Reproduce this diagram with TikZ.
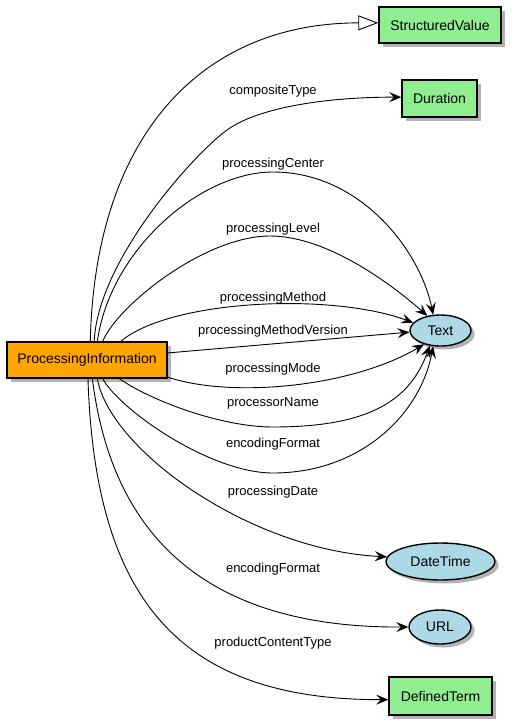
\documentclass[tikz,border=0pt]{standalone}
\usepackage{fontspec}
\setmainfont{Liberation Sans}
\usetikzlibrary{shapes.geometric,arrows.meta,shadows}
\definecolor{piorange}{HTML}{FFA500}
\definecolor{boxgreen}{HTML}{90EE90}
\definecolor{ellblue}{HTML}{ADD8E6}
\begin{document}
\begin{tikzpicture}[x=1pt,y=-1pt,
  shad/.style={drop shadow={shadow xshift=3.5pt,shadow yshift=-3.5pt,fill=black,opacity=0.3}},
  classbox/.style={draw=black,line width=1.4pt,rectangle,inner sep=0pt,font=\fontsize{14}{16}\selectfont,shad},
  typeell/.style={draw=black,line width=1.4pt,ellipse,inner sep=0pt,fill=ellblue,font=\fontsize{14}{16}\selectfont,shad},
  rel/.style={line width=0.9pt,-{Stealth[length=12pt,width=10pt,inset=4.5pt]}},
  inh/.style={line width=0.9pt,-{Triangle[open,length=20pt,width=15pt,fill=white]}},
  lbl/.style={font=\fontsize{13}{15}\selectfont,inner sep=0pt}]
\useasboundingbox (0,0) rectangle (512,724);
% nodes
\node[classbox,fill=piorange,minimum width=160pt,minimum height=36pt] (PI) at (87,360) {ProcessingInformation};
\node[classbox,fill=boxgreen,minimum width=122pt,minimum height=36pt] (SV) at (440,25) {StructuredValue};
\node[classbox,fill=boxgreen,minimum width=75pt,minimum height=37pt] (DU) at (439.5,98.5) {Duration};
\node[typeell,minimum width=61pt,minimum height=31pt] (TX) at (440.5,330.5) {Text};
\node[typeell,minimum width=109pt,minimum height=37pt] (DT) at (440.5,561.5) {DateTime};
\node[typeell,minimum width=62pt,minimum height=34pt] (UR) at (440,627) {URL};
\node[classbox,fill=boxgreen,minimum width=103pt,minimum height=38pt] (DF) at (440.5,696) {DefinedTerm};
% labels
\node[lbl] (l1) at (273,91) {compositeType};
\node[lbl] (l2) at (273,164) {processingCenter};
\node[lbl] (l3) at (273,229) {processingLevel};
\node[lbl] (l4) at (273,298) {processingMethod};
\node[lbl] (l5) at (273,331) {processingMethodVersion};
\node[lbl] (l6) at (273,369) {processingMode};
\node[lbl] (l7) at (273,403) {processorName};
\node[lbl] (l8) at (273,444) {encodingFormat};
\node[lbl] (l9) at (273,492) {processingDate};
\node[lbl] (l10) at (273,569) {encodingFormat};
\node[lbl] (l11) at (273,643) {productContentType};
% connectors
\draw[inh] (PI.80) .. controls (95,135) and (202,23) .. (SV.178);
\draw[rel] (PI.69) .. controls (98,260) and (194.6,153.4) .. (227,130)
           .. controls (259.4,106.6) and (330,97) .. (DU.178);
\draw[rel] (PI.61) .. controls (110,250) and (200,172) .. (273,172)
           .. controls (360,172) and (420,250) .. (TX.115);
\draw[rel] (PI.50) .. controls (118,305) and (205,236) .. (270,236)
           .. controls (330,236) and (397,289) .. (TX.132);
\draw[rel] (PI.29) .. controls (170,300) and (330,292) .. (TX.164);
\draw[rel] (PI.5) -- (TX.183);
\draw[rel] (PI.-12) .. controls (230,398) and (350,388) .. (TX.220);
\draw[rel] (PI.-30) .. controls (150,400) and (220,427) .. (273,427)
           .. controls (370,427) and (410,400) .. (TX.235);
\draw[rel] (PI.-50) .. controls (120,410) and (210,473) .. (273,473)
           .. controls (360,473) and (420,415) .. (TX.245);
\draw[rel] (PI.-61) .. controls (110,450) and (250,550) .. (DT.175);
\draw[rel] (PI.-74) .. controls (110,520) and (190,628) .. (UR.west);
\draw[rel] (PI.-87) .. controls (95,600) and (180,700) .. (DF.184);
\end{tikzpicture}
\end{document}
